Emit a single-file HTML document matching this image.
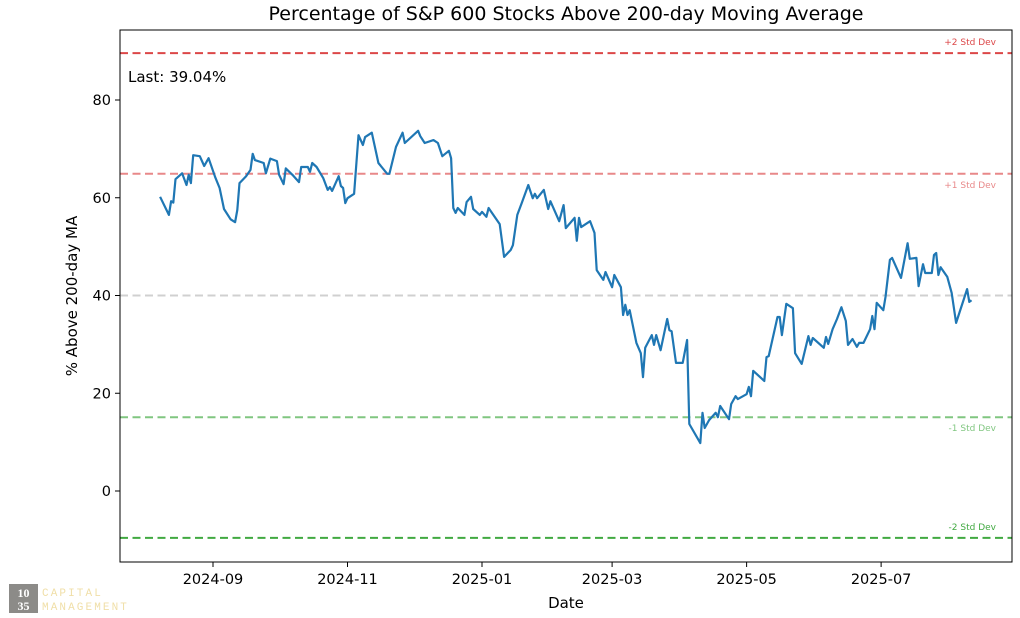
<!DOCTYPE html>
<html><head><meta charset="utf-8"><style>
html,body{margin:0;padding:0;background:#fff;}
svg{display:block;font-family:"DejaVu Sans","Liberation Sans",sans-serif;}
</style></head><body>
<svg id="chart" width="1020" height="618" viewBox="0 0 1020 618" xmlns="http://www.w3.org/2000/svg">
<rect x="0" y="0" width="1020" height="618" fill="#fff"/>
<text x="566" y="20" font-size="19" text-anchor="middle" fill="#000">Percentage of S&amp;P 600 Stocks Above 200-day Moving Average</text>
<g id="grid"></g>
<g id="series"></g>
<rect x="120" y="30" width="892" height="532" fill="none" stroke="#000" stroke-width="1"/>
<g id="axes"></g>
<text x="128" y="82" font-size="15" fill="#000">Last: 39.04%</text>
<text x="566" y="608" font-size="15" text-anchor="middle" fill="#000">Date</text>
<text transform="translate(77,296) rotate(-90)" font-size="15" text-anchor="middle" fill="#000">% Above 200-day MA</text>
<g>
<rect x="9" y="584" width="29" height="29" fill="#8c8b88"/>
<text x="23.5" y="597" font-size="12" text-anchor="middle" fill="#fff" font-family="Liberation Serif,serif" font-weight="bold">10</text>
<text x="23.5" y="610" font-size="12" text-anchor="middle" fill="#fff" font-family="Liberation Serif,serif" font-weight="bold">35</text>
<text x="42" y="596" font-size="11" fill="#f0dfa8" font-family="Liberation Mono,monospace" letter-spacing="2.1">CAPITAL</text>
<text x="42" y="610" font-size="11" fill="#f0dfa8" font-family="Liberation Mono,monospace" letter-spacing="2.1">MANAGEMENT</text>
</g>
</svg>
<script>
const dates = ["2024-08-08","2024-08-12","2024-08-13","2024-08-14","2024-08-15","2024-08-18","2024-08-20","2024-08-21","2024-08-22","2024-08-23","2024-08-26","2024-08-28","2024-08-30","2024-09-02","2024-09-04","2024-09-06","2024-09-09","2024-09-11","2024-09-12","2024-09-13","2024-09-16","2024-09-18","2024-09-19","2024-09-20","2024-09-24","2024-09-25","2024-09-27","2024-09-30","2024-10-01","2024-10-03","2024-10-04","2024-10-07","2024-10-10","2024-10-11","2024-10-14","2024-10-15","2024-10-16","2024-10-18","2024-10-21","2024-10-23","2024-10-24","2024-10-25","2024-10-28","2024-10-29","2024-10-30","2024-10-31","2024-11-01","2024-11-04","2024-11-06","2024-11-08","2024-11-09","2024-11-12","2024-11-15","2024-11-19","2024-11-20","2024-11-23","2024-11-26","2024-11-27","2024-12-03","2024-12-04","2024-12-06","2024-12-10","2024-12-12","2024-12-14","2024-12-17","2024-12-18","2024-12-19","2024-12-20","2024-12-21","2024-12-24","2024-12-25","2024-12-27","2024-12-28","2024-12-31","2025-01-01","2025-01-03","2025-01-04","2025-01-09","2025-01-11","2025-01-14","2025-01-15","2025-01-17","2025-01-19","2025-01-22","2025-01-24","2025-01-25","2025-01-26","2025-01-29","2025-01-31","2025-02-01","2025-02-05","2025-02-07","2025-02-08","2025-02-12","2025-02-13","2025-02-14","2025-02-15","2025-02-19","2025-02-21","2025-02-22","2025-02-25","2025-02-26","2025-03-01","2025-03-02","2025-03-05","2025-03-06","2025-03-07","2025-03-08","2025-03-09","2025-03-12","2025-03-14","2025-03-15","2025-03-16","2025-03-19","2025-03-20","2025-03-21","2025-03-23","2025-03-26","2025-03-27","2025-03-28","2025-03-30","2025-04-02","2025-04-04","2025-04-05","2025-04-10","2025-04-11","2025-04-12","2025-04-14","2025-04-17","2025-04-18","2025-04-19","2025-04-23","2025-04-24","2025-04-26","2025-04-27","2025-05-01","2025-05-02","2025-05-03","2025-05-04","2025-05-09","2025-05-10","2025-05-11","2025-05-15","2025-05-16","2025-05-17","2025-05-19","2025-05-22","2025-05-23","2025-05-26","2025-05-29","2025-05-30","2025-05-31","2025-06-05","2025-06-06","2025-06-07","2025-06-09","2025-06-11","2025-06-13","2025-06-15","2025-06-16","2025-06-18","2025-06-20","2025-06-21","2025-06-23","2025-06-26","2025-06-27","2025-06-28","2025-06-29","2025-07-02","2025-07-03","2025-07-05","2025-07-06","2025-07-10","2025-07-13","2025-07-14","2025-07-17","2025-07-18","2025-07-20","2025-07-21","2025-07-24","2025-07-25","2025-07-26","2025-07-27","2025-07-28","2025-07-31","2025-08-02","2025-08-04","2025-08-09","2025-08-10","2025-08-11"];
const pctAbove = [60.2,56.5,59.3,59.0,63.8,65.0,62.6,64.7,63.0,68.7,68.5,66.5,68.1,64.2,62.0,57.7,55.6,55.0,57.5,63.0,64.4,65.7,69.0,67.7,67.1,65.0,68.0,67.5,64.7,62.8,66.0,64.7,63.2,66.3,66.3,65.3,67.1,66.3,64.0,61.6,62.2,61.4,64.4,62.4,62.0,58.9,59.9,60.8,72.8,70.8,72.4,73.3,67.1,64.9,64.9,70.4,73.3,71.2,73.7,72.6,71.2,71.8,71.2,68.5,69.6,68.1,57.9,56.9,57.9,56.5,59.1,60.2,57.7,56.5,57.1,56.1,57.9,54.6,47.9,49.3,50.3,56.5,58.9,62.6,59.9,60.8,59.9,61.6,57.7,59.3,55.2,58.5,53.8,55.9,51.2,55.9,54.0,55.2,52.8,45.2,43.2,44.8,41.7,44.2,41.7,36.0,38.1,36.0,37.0,30.3,28.2,23.3,29.3,31.9,29.9,31.9,28.8,35.2,32.9,32.7,26.2,26.2,30.9,13.7,9.8,16.0,12.9,14.5,16.0,15.1,17.4,14.7,17.8,19.4,18.8,19.8,21.3,19.4,24.6,22.5,27.4,27.6,35.6,35.6,31.9,38.3,37.4,28.2,26.0,31.7,29.9,31.3,29.3,31.5,30.1,33.1,35.2,37.6,34.8,29.9,31.1,29.5,30.3,30.3,33.1,35.8,33.1,38.5,37.0,39.7,47.3,47.7,43.6,50.7,47.5,47.7,41.9,46.4,44.6,44.6,48.3,48.7,44.2,45.8,43.8,40.5,34.4,41.3,38.7,39.04];
const yTicks = [0,20,40,60,80];
const xTicks = ["2024-09-01","2024-11-01","2025-01-01","2025-03-01","2025-05-01","2025-07-01"];
const xTickLabels = ["2024-09","2024-11","2025-01","2025-03","2025-05","2025-07"];
const bandLevels = [89.6,64.9,40.0,15.1,-9.6];
const bandLabels = ["+2 Std Dev","+1 Std Dev","","-1 Std Dev","-2 Std Dev"];
const bandLabelBelow = [false,true,false,true,false];
const bandColors = ["rgba(214,39,40,0.85)","rgba(214,39,40,0.55)","rgba(150,150,150,0.45)","rgba(44,160,44,0.6)","rgba(44,160,44,0.9)"];

const NS="http://www.w3.org/2000/svg";
const origin=Date.UTC(2024,8,1);
function dayOf(s){const p=s.split("-");return (Date.UTC(+p[0],+p[1]-1,+p[2])-origin)/86400000;}
function xScale(s){return 213+dayOf(s)*2.205;}
function yScale(v){return 491-v*4.8875;}
function mk(tag,attrs,parent){const e=document.createElementNS(NS,tag);for(const k in attrs)e.setAttribute(k,attrs[k]);parent.appendChild(e);return e;}
const grid=document.getElementById("grid"),series=document.getElementById("series"),axes=document.getElementById("axes");

bandLevels.forEach((lv,i)=>{
  const y=yScale(lv);
  const l=mk("line",{x1:120,x2:1012,y1:y,y2:y,stroke:bandColors[i],"stroke-width":2,"stroke-dasharray":"8,4.5"},grid);
  
  
  if(bandLabels[i]){
    const ty=bandLabelBelow[i]?y+14:y-8;
    const t=mk("text",{x:996,y:ty,"font-size":9,"text-anchor":"end",fill:bandColors[i]},grid);
    t.textContent=bandLabels[i];
    
    
  }
});

let d="";
dates.forEach((s,i)=>{d+=(i?"L":"M")+xScale(s).toFixed(1)+","+yScale(pctAbove[i]).toFixed(1);});
const path=mk("path",{d:d,fill:"none",stroke:"#1f77b4","stroke-width":2.2,"stroke-linejoin":"round"},series);



yTicks.forEach(v=>{
  const y=yScale(v);
  const tk=mk("line",{x1:115,x2:120,y1:y,y2:y,stroke:"#000"},axes);
  
  
  const t=mk("text",{x:111,y:y+5,"font-size":14.5,"text-anchor":"end",fill:"#000"},axes);
  t.textContent=v;
  
  
});
xTicks.forEach((s,i)=>{
  const x=xScale(s);
  const tk=mk("line",{x1:x,x2:x,y1:562,y2:567,stroke:"#000"},axes);
  
  
  const t=mk("text",{x:x,y:584,"font-size":14.5,"text-anchor":"middle",fill:"#000"},axes);
  t.textContent=xTickLabels[i];
  
  
});
</script>
</body></html>
